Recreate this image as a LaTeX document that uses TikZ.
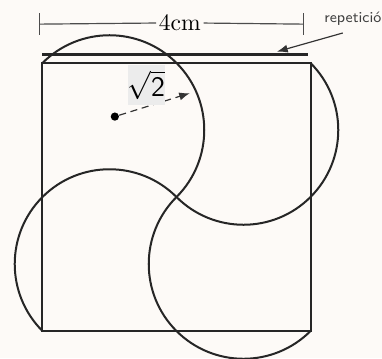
\documentclass[tikz,border=0pt]{standalone}
\usepackage{amsmath}
\usetikzlibrary{arrows.meta}
\definecolor{paper}{RGB}{253,250,247}
\definecolor{boxgray}{RGB}{236,236,236}

\begin{document}
\begin{tikzpicture}[
  edge/.style={line width=0.85pt, black!85},
  dim/.style={line width=0.5pt, black!70},
  ptr/.style={-{Latex[length=1.6mm,width=1.2mm]}, line width=0.5pt, black!80},
  dot/.style={circle, fill=black, inner sep=0pt, minimum size=3.5pt},
]
\clip (-0.634,-0.403) rectangle (5.067,4.940);
\fill[paper] (-0.634,-0.403) rectangle (5.067,4.940);

% ---- square and its repeated top edge -------------------------------------
\draw[edge] (0,0) rectangle (4,4);
\draw[line width=1.3pt, black!85] (0,4.13) -- (3.96,4.13);

% ---- four half circles, corner to centre ----------------------------------
\foreach \cx/\cy/\a in {1/3/135, 3/3/45, 1/1/225, 3/1/315}
  \draw[edge] (\cx,\cy) ++(\a:1.4142) arc[start angle=\a, delta angle=-180, radius=1.4142];

% ---- length of the side ---------------------------------------------------
\coordinate (dl) at (-0.04,4.58);
\coordinate (dr) at (3.89,4.58);
\node[fill=paper, inner sep=1pt] (len) at (2.05,4.60) {4cm};
\draw[dim] (dl) -- (len);
\draw[dim] (len) -- (dr);
\draw[dim] (dl) ++(0,0.16) -- ++(0,-0.32);
\draw[dim] (dr) ++(0,0.16) -- ++(0,-0.32);

% ---- radius ---------------------------------------------------------------
\node[dot] (ctr) at (1.08,3.2) {};
\coordinate (rim) at (2.2,3.55);
\draw[ptr, densely dashed] (ctr) -- (rim);
\node[fill=boxgray, minimum width=0.49cm, minimum height=0.6cm, inner sep=0pt, font=\large]
  (rad) at (1.55,3.67) {$\sqrt{\textsf{2}}$};

% ---- repetition pointer ---------------------------------------------------
\node[anchor=west, font=\sffamily\fontsize{6.4}{7.5}\selectfont, text=black!75, inner sep=0pt]
  (rep) at (4.2,4.66) {repetición};
\coordinate (hit) at (3.5,4.17);
\draw[ptr] ([xshift=8pt,yshift=-3pt]rep.south west) -- (hit);

\end{tikzpicture}
\end{document}
